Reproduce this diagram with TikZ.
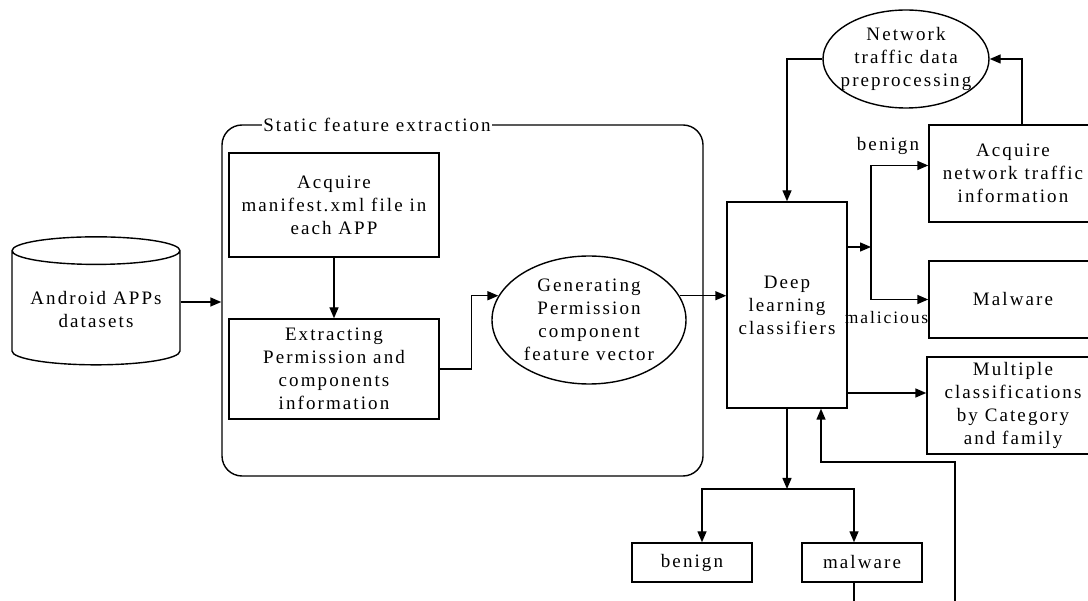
\documentclass[tikz,border=0pt]{standalone}
\usepackage{fontspec}
\setmainfont{Liberation Serif}[LetterSpace=11]
\usetikzlibrary{arrows.meta,positioning,shapes.geometric,calc}
\tikzset{
  >={Triangle[length=11pt,width=9pt]},
  box/.style={draw,rectangle,inner sep=2pt,align=center,minimum width=#1},
  box/.default=120pt,
  oval/.style={draw,ellipse,inner sep=0pt,align=center},
  db/.style={draw,cylinder,shape border rotate=90,aspect=0.2,align=center},
  group/.style={draw,rounded corners=20pt},
  tag/.style={inner sep=1pt},
  flow/.style={->},
}

\begin{document}
\begin{tikzpicture}[x=1pt,y=-1pt,line width=1.4pt,font=\fontsize{19}{23}\selectfont]
    \clip (0,0) rectangle (1088,601);
    % static part
    \node[db,minimum width=168pt,minimum height=128pt] (data) at (96,310) {Android APPs\\datasets};
    \node[group,minimum width=481pt,minimum height=351pt] (sfe) at (462.5,300.5) {};
    \node[tag,fill=white] (sfet) at (377,125) {Static feature extraction};
    \node[box=210pt,minimum height=104pt] (am) at (334,205) {Acquire\\manifest.xml file in\\each APP};
    \node[box=210pt,minimum height=100pt] (ext) at (334,369) {Extracting\\Permission and\\components\\information};
    \node[oval,inner ysep=-1pt,minimum width=194pt,minimum height=128pt] (gen) at (589,320) {Generating\\Permission\\component\\feature vector};
    % classifier and outputs
    \node[box=120pt,minimum height=206pt] (deep) at (787,305) {Deep\\learning\\classifiers};
    \node[oval,inner xsep=-8pt,minimum width=166pt,minimum height=98pt] (net) at (906,59) {Network\\traffic data\\preprocessing};
    \node[box=168pt,minimum height=97pt] (anet) at (1013,173.5) {Acquire\\network traffic\\information};
    \node[box=168pt,minimum height=77pt] (mal) at (1013,299.5) {Malware};
    \node[box=172pt,minimum height=97pt] (mult) at (1013,405.5) {Multiple\\classifications\\by Category\\and family};
    \node[box=120pt,minimum height=39pt] (ben) at (692,562.5) {benign};
    \node[box=120pt,minimum height=39pt] (mw) at (862,562.5) {malware};
    \node[tag] (lben) at (888,146) {benign};
    \node[tag,anchor=east,font=\fontsize{17.5}{21}\selectfont] (lmal) at (930,318) {malicious};
    \coordinate (sp) at (871,247); \coordinate (br) at (787,489);
    \coordinate (fb) at (955,610); \coordinate (fbk) at (821,462);
    \coordinate (mwout) at (854,610);
    \draw[flow] (data.east |- 0,302) -- (sfe.west |- 0,302);
    \draw[flow] (am.south) -- (ext.north);
    \draw[flow] (ext.east) -- ++(32,0) |- (gen.165);
    \draw[flow] (gen.15) -- (gen.15 -| deep.west);
    \draw[flow] (net.west) -| (deep.north);
    \draw[flow] (deep.east |- sp) -- (sp);
    \draw[flow] (sp) |- ([yshift=8pt]anet.west);
    \draw[flow] (sp) |- (mal.west);
    \draw[flow] (deep.east |- 0,393) -- (mult.west |- 0,393);
    \draw[flow] ([xshift=9pt]anet.north) |- (net.east);
    \draw[flow] (deep.south) -- (br);
    \draw[flow] (br) -| ([xshift=10pt]ben.north);
    \draw[flow] (br) -| ([xshift=-8pt]mw.north);
    \draw ([xshift=-8pt]mw.south) -- (mwout);
    \draw[flow] (fb) |- (fbk) -- (fbk |- deep.south);
\end{tikzpicture}
\end{document}
